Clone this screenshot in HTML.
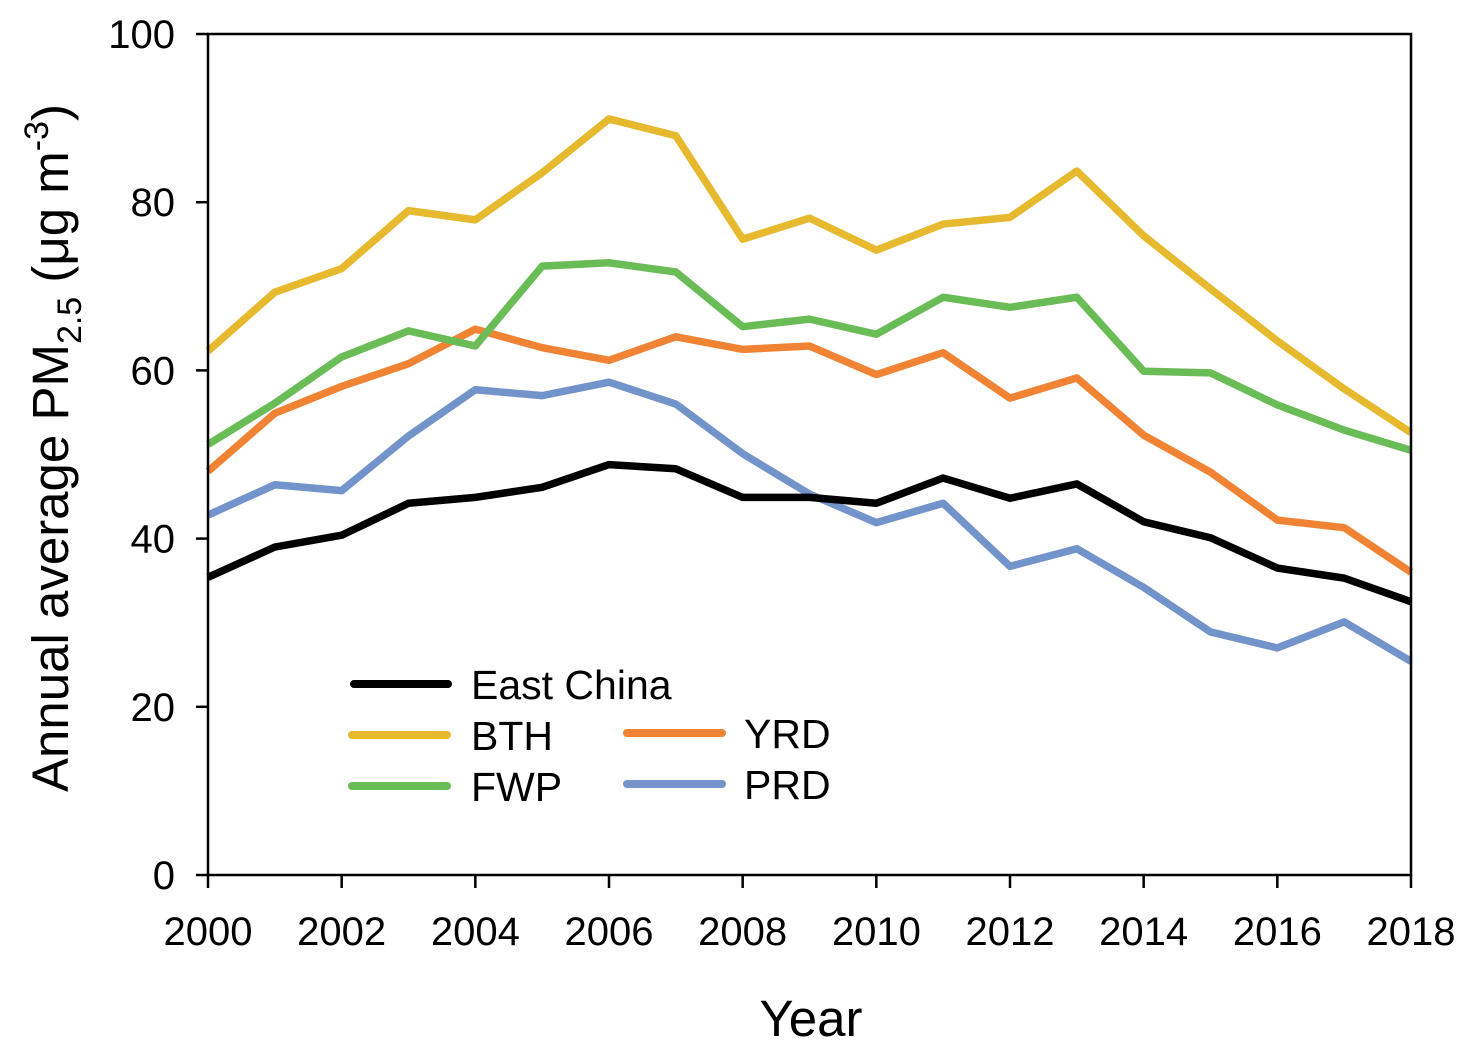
<!DOCTYPE html>
<html><head><meta charset="utf-8"><style>
html,body{margin:0;padding:0;background:#fff;}
svg{display:block;font-family:"Liberation Sans",Arial,sans-serif;}
</style></head><body>
<svg id="chart" width="1475" height="1055" viewBox="0 0 1475 1055">
<g id="lines"></g>
<rect x="208" y="34" width="1203" height="841" fill="none" stroke="#000" stroke-width="2.5"/>
<g id="axes"></g>
<text x="0" y="0" transform="translate(68,448) rotate(-90)" text-anchor="middle" font-size="51">Annual average PM<tspan font-size="34" dy="13">2.5</tspan><tspan dy="-13"> (μg m</tspan><tspan font-size="34" dy="-20">-3</tspan><tspan dy="20">)</tspan></text>
<text x="811" y="1036" text-anchor="middle" font-size="51">Year</text>
<g>
<line x1="354" y1="684" x2="448" y2="684" stroke="#000" stroke-width="8" stroke-linecap="round"/>
<text x="471" y="699" font-size="41">East China</text>
<line x1="352" y1="735" x2="447" y2="735" stroke="#E6B92E" stroke-width="8" stroke-linecap="round"/>
<text x="471" y="750" font-size="41">BTH</text>
<line x1="627" y1="733" x2="722" y2="733" stroke="#F08434" stroke-width="8" stroke-linecap="round"/>
<text x="744" y="748" font-size="41">YRD</text>
<line x1="352" y1="786" x2="447" y2="786" stroke="#6ABD56" stroke-width="8" stroke-linecap="round"/>
<text x="471" y="801" font-size="41">FWP</text>
<line x1="627" y1="784" x2="722" y2="784" stroke="#7393CB" stroke-width="8" stroke-linecap="round"/>
<text x="744" y="799" font-size="41">PRD</text>
</g>
</svg>
<script>
const years = [2000,2001,2002,2003,2004,2005,2006,2007,2008,2009,2010,2011,2012,2013,2014,2015,2016,2017,2018];
const eastChina = [35.4,39.0,40.4,44.2,44.9,46.1,48.8,48.3,44.9,44.9,44.2,47.2,44.8,46.5,42.0,40.1,36.5,35.3,32.5];
const bth = [62.3,69.3,72.1,79.0,77.9,83.5,89.9,87.9,75.6,78.1,74.3,77.4,78.2,83.7,76.0,69.7,63.5,57.8,52.6];
const fwp = [51.2,56.1,61.6,64.7,62.9,72.4,72.8,71.7,65.2,66.1,64.3,68.7,67.5,68.7,59.9,59.7,55.9,52.9,50.5];
const yrd = [48.0,54.9,58.1,60.8,64.9,62.7,61.2,64.0,62.5,62.9,59.5,62.1,56.7,59.1,52.3,47.9,42.2,41.3,36.0];
const prd = [42.8,46.4,45.7,52.2,57.7,57.0,58.6,56.0,50.1,45.3,41.9,44.2,36.7,38.8,34.2,28.9,27.0,30.1,25.4];
const yTicks = [0,20,40,60,80,100];
const xTicks = [2000,2002,2004,2006,2008,2010,2012,2014,2016,2018];

const NS = "http://www.w3.org/2000/svg";
function xs(v){ return 208 + (v-2000)/18*1203; }
function ys(v){ return 875 - v/100*841; }

const lines = document.getElementById('lines');
const series = [
  {name:'prd', data:prd, color:'#7393CB'},
  {name:'yrd', data:yrd, color:'#F08434'},
  {name:'fwp', data:fwp, color:'#6ABD56'},
  {name:'bth', data:bth, color:'#E6B92E'},
  {name:'east-china', data:eastChina, color:'#000000'}
];
series.forEach(s=>{
  const p = document.createElementNS(NS,'polyline');
  p.setAttribute('points', s.data.map((v,i)=>xs(years[i])+','+ys(v)).join(' '));
  p.setAttribute('fill','none');
  p.setAttribute('stroke',s.color);
  p.setAttribute('stroke-width','7.5');
  p.setAttribute('stroke-linejoin','round');
  
  
  lines.appendChild(p);
});

const axes = document.getElementById('axes');
yTicks.forEach(t=>{
  const l = document.createElementNS(NS,'line');
  l.setAttribute('x1',196); l.setAttribute('x2',208);
  l.setAttribute('y1',ys(t)); l.setAttribute('y2',ys(t));
  l.setAttribute('stroke','#000'); l.setAttribute('stroke-width','2.5');
  
  
  axes.appendChild(l);
  const tx = document.createElementNS(NS,'text');
  tx.setAttribute('x',175); tx.setAttribute('y',ys(t)+14);
  tx.setAttribute('text-anchor','end'); tx.setAttribute('font-size','40');
  tx.textContent = t;
  
  
  axes.appendChild(tx);
});
xTicks.forEach(t=>{
  const l = document.createElementNS(NS,'line');
  l.setAttribute('x1',xs(t)); l.setAttribute('x2',xs(t));
  l.setAttribute('y1',875); l.setAttribute('y2',888);
  l.setAttribute('stroke','#000'); l.setAttribute('stroke-width','2.5');
  
  
  axes.appendChild(l);
  const tx = document.createElementNS(NS,'text');
  tx.setAttribute('x',xs(t)); tx.setAttribute('y',945);
  tx.setAttribute('text-anchor','middle'); tx.setAttribute('font-size','40');
  tx.textContent = t;
  
  
  axes.appendChild(tx);
});
</script>
</body></html>
